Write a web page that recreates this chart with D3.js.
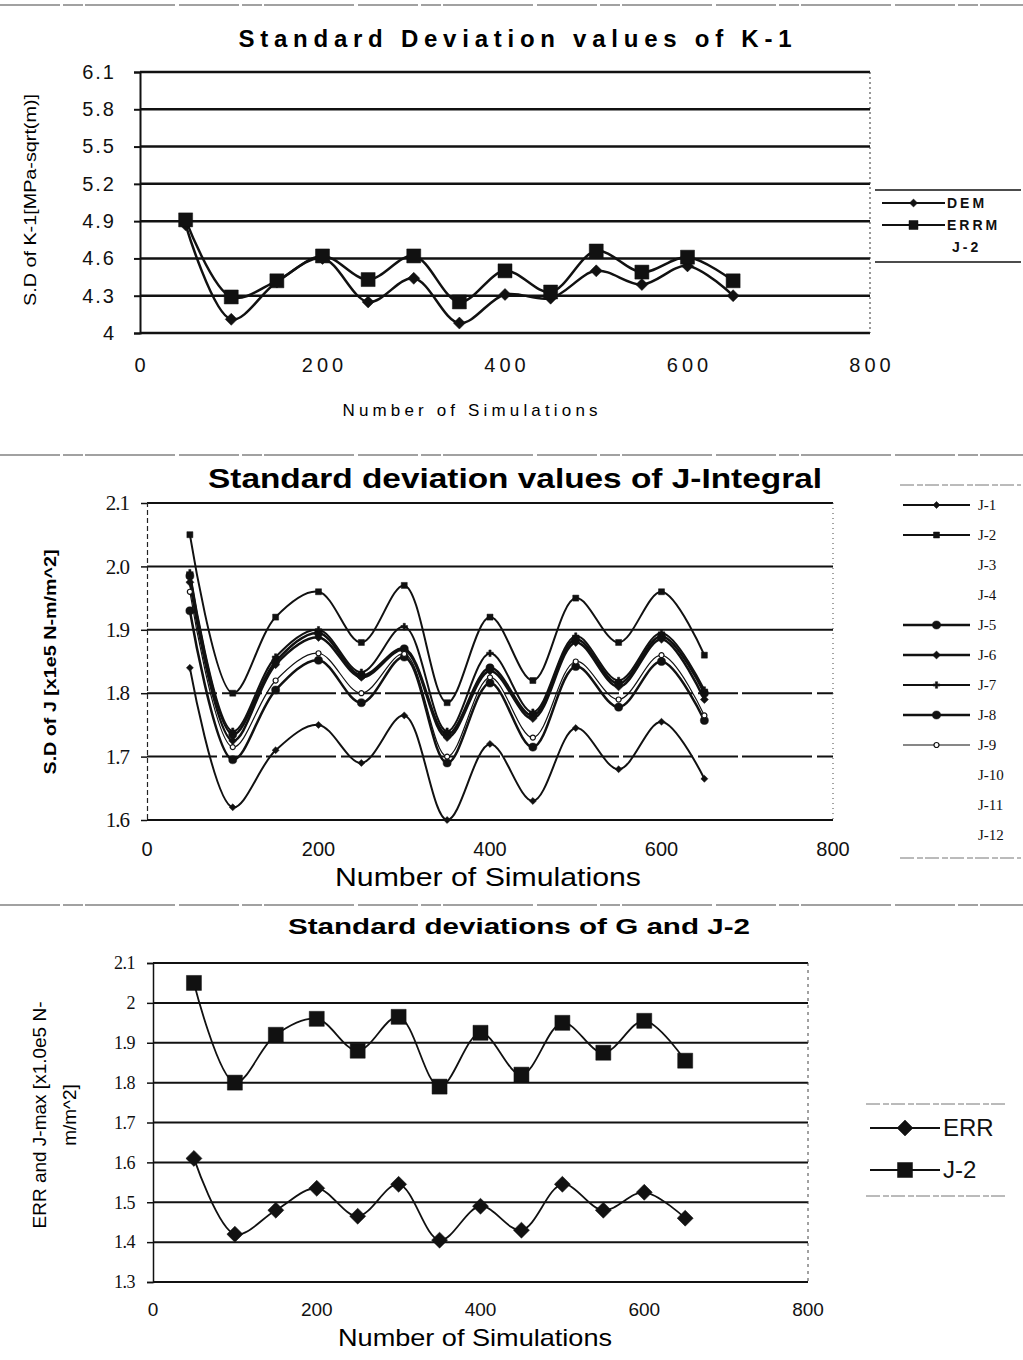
<!DOCTYPE html>
<html>
<head>
<meta charset="utf-8">
<script src="https://cdn.jsdelivr.net/npm/d3@7"></script>
<style>
  body { margin: 0; background: #fff; }
  svg { display: block; }
</style>
</head>
<body>
<script>
// number of simulations (x values of every series)
const simCounts = [50, 100, 150, 200, 250, 300, 350, 400, 450, 500, 550, 600, 650]
const xTicks = [0, 200, 400, 600, 800]

// chart 1 - K-1
const k1Ticks = [4, 4.3, 4.6, 4.9, 5.2, 5.5, 5.8, 6.1]
const k1Dem = [4.87, 4.11, 4.41, 4.60, 4.25, 4.44, 4.08, 4.31, 4.28, 4.50, 4.39, 4.54, 4.30]
const k1Errm = [4.91, 4.29, 4.42, 4.62, 4.43, 4.62, 4.25, 4.50, 4.33, 4.66, 4.49, 4.61, 4.42]
const k1Legend = ['DEM', 'ERRM', 'J-2']

// chart 2 - J-Integral
const jTicks = [1.6, 1.7, 1.8, 1.9, 2.0, 2.1]
const jNames = ['J-1', 'J-2', 'J-3', 'J-4', 'J-5', 'J-6', 'J-7', 'J-8', 'J-9', 'J-10', 'J-11', 'J-12']
const j1 = [1.84, 1.62, 1.71, 1.75, 1.69, 1.765, 1.60, 1.72, 1.63, 1.745, 1.68, 1.755, 1.665]
const j2 = [2.05, 1.80, 1.92, 1.96, 1.88, 1.97, 1.785, 1.92, 1.82, 1.95, 1.88, 1.96, 1.86]
const j5 = [1.985, 1.735, 1.85, 1.895, 1.828, 1.87, 1.735, 1.84, 1.765, 1.885, 1.815, 1.89, 1.80]
const j6 = [1.975, 1.725, 1.845, 1.888, 1.825, 1.868, 1.73, 1.835, 1.76, 1.88, 1.81, 1.885, 1.79]
const j7 = [1.99, 1.74, 1.857, 1.90, 1.833, 1.905, 1.74, 1.863, 1.77, 1.89, 1.82, 1.895, 1.805]
const j8 = [1.93, 1.695, 1.805, 1.852, 1.785, 1.857, 1.69, 1.816, 1.715, 1.842, 1.778, 1.85, 1.757]
const j9 = [1.96, 1.715, 1.82, 1.863, 1.80, 1.862, 1.70, 1.825, 1.73, 1.85, 1.79, 1.86, 1.765]

// chart 3 - G and J-2
const gTicks = [1.3, 1.4, 1.5, 1.6, 1.7, 1.8, 1.9, 2, 2.1]
const gErr = [1.61, 1.42, 1.48, 1.535, 1.465, 1.545, 1.405, 1.49, 1.43, 1.545, 1.48, 1.525, 1.46]
const gJ2 = [2.05, 1.80, 1.92, 1.96, 1.88, 1.965, 1.79, 1.925, 1.82, 1.95, 1.875, 1.955, 1.855]
const gLegend = ['ERR', 'J-2']

const sans = "'Liberation Sans', Arial, sans-serif"
const narrow = "'Liberation Sans Narrow', 'Liberation Sans', Arial, sans-serif"
const serif = "'Liberation Serif', 'DejaVu Serif', serif"

const svg = d3.select('body').append('svg')
  .attr('width', 1023)
  .attr('height', 1360)

const smooth = d3.curveCatmullRom.alpha(0.5)

// marker path, diamonds are rotated squares like excel's
function marker(type, size) {
  if (type === 'circle') return d3.symbol().type(d3.symbolCircle).size(size * size * 0.8)()
  if (type === 'cross') return d3.symbol().type(d3.symbolCross).size(size * size * 0.5)()
  let side = type === 'diamond' ? size / Math.SQRT2 : size
  return d3.symbol().type(d3.symbolSquare).size(side * side)()
}

function drawSeries(g, x, y, values, opts) {
  let pts = simCounts.map((s, i) => [x(s), y(values[i])])
  g.append('path')
    .attr('d', d3.line().curve(smooth)(pts))
    .attr('fill', 'none')
    .attr('stroke', '#111')
    .attr('stroke-width', opts.width)
  g.selectAll(null)
    .data(pts)
    .enter().append('path')
    .attr('d', marker(opts.marker, opts.size))
    .attr('transform', d => 'translate(' + d[0] + ',' + d[1] + ')' + (opts.marker === 'diamond' ? ' rotate(45)' : ''))
    .attr('fill', opts.open ? '#fff' : '#111')
    .attr('stroke', '#111')
    .attr('stroke-width', opts.open ? 1.2 : 0.5)
}

function separator(yPos) {
  svg.append('line')
    .attr('x1', 0).attr('x2', 1023)
    .attr('y1', yPos).attr('y2', yPos)
    .attr('stroke', '#444')
    .attr('stroke-width', 1.2)
    .attr('stroke-dasharray', '60,3,20,2,90,4')
}

function legendEntry(g, x0, x1, yPos, opts) {
  g.append('line')
    .attr('x1', x0).attr('x2', x1)
    .attr('y1', yPos).attr('y2', yPos)
    .attr('stroke', '#111')
    .attr('stroke-width', opts.width)
  g.append('path')
    .attr('d', marker(opts.marker, opts.size))
    .attr('transform', 'translate(' + ((x0 + x1) / 2) + ',' + yPos + ')' + (opts.marker === 'diamond' ? ' rotate(45)' : ''))
    .attr('fill', opts.open ? '#fff' : '#111')
    .attr('stroke', '#111')
    .attr('stroke-width', opts.open ? 1.2 : 0.5)
}

/* ---------- chart 1 : K-1 ---------- */
separator(5)
{
  let g = svg.append('g')
  let x = d3.scaleLinear().domain([0, 800]).range([140, 870])
  let y = d3.scaleLinear().domain([4, 6.1]).range([333, 72])

  g.selectAll(null).data(k1Ticks).enter().append('line')
    .attr('x1', 140).attr('x2', 870)
    .attr('y1', d => y(d)).attr('y2', d => y(d))
    .attr('stroke', '#111').attr('stroke-width', 2.5)

  g.append('line').attr('x1', 870).attr('x2', 870).attr('y1', 72).attr('y2', 333)
    .attr('stroke', '#333').attr('stroke-width', 1).attr('stroke-dasharray', '2,3')

  let yAxis = d3.axisLeft(y).tickValues(k1Ticks).tickSize(6).tickPadding(18)
    .tickFormat(d3.format('.1~f'))
  g.append('g').attr('transform', 'translate(140,0)').call(yAxis)
    .call(a => a.select('.domain').attr('stroke-width', 2).attr('stroke', '#111'))
    .call(a => a.selectAll('.tick line').attr('stroke-width', 2).attr('stroke', '#111'))
    .call(a => a.selectAll('text').attr('font-family', sans).attr('font-size', 20)
      .attr('letter-spacing', 2).attr('fill', '#111'))

  g.selectAll(null).data(xTicks).enter().append('text')
    .attr('x', d => x(d) + 2).attr('y', 372)
    .attr('text-anchor', 'middle')
    .attr('font-family', sans).attr('font-size', 20).attr('letter-spacing', 4)
    .attr('fill', '#111')
    .text(d => d)

  g.append('text').attr('x', 515).attr('y', 47)
    .attr('text-anchor', 'middle')
    .attr('font-family', sans).attr('font-size', 24).attr('font-weight', 'bold')
    .attr('textLength', 553).attr('lengthAdjust', 'spacing')
    .text('Standard Deviation values of K-1')

  g.append('text').attr('x', 470).attr('y', 416)
    .attr('text-anchor', 'middle')
    .attr('font-family', sans).attr('font-size', 17)
    .attr('textLength', 255).attr('lengthAdjust', 'spacing')
    .text('Number of Simulations')

  g.append('text')
    .attr('transform', 'translate(36,200) rotate(-90)')
    .attr('text-anchor', 'middle')
    .attr('font-family', sans).attr('font-size', 16)
    .attr('textLength', 212).attr('lengthAdjust', 'spacingAndGlyphs')
    .text('S.D of K-1[MPa-sqrt(m)]')

  drawSeries(g, x, y, k1Dem, {marker: 'diamond', size: 12, width: 2.5})
  drawSeries(g, x, y, k1Errm, {marker: 'square', size: 14, width: 2.5})

  // legend
  let lg = svg.append('g')
  ;[190, 262].forEach(yy => lg.append('line').attr('x1', 875).attr('x2', 1021)
    .attr('y1', yy).attr('y2', yy).attr('stroke', '#111').attr('stroke-width', 1.5))
  let k1Styles = [{marker: 'diamond', size: 8, width: 2}, {marker: 'square', size: 9, width: 2}, null]
  k1Legend.forEach((name, i) => {
    let yy = 203 + i * 22
    if (k1Styles[i]) legendEntry(lg, 882, 945, yy, k1Styles[i])
    lg.append('text').attr('x', i === 2 ? 952 : 947).attr('y', yy + 5)
      .attr('font-family', sans).attr('font-size', 14).attr('font-weight', 'bold')
      .attr('letter-spacing', 3).attr('fill', '#111')
      .text(name)
  })
}

/* ---------- chart 2 : J-Integral ---------- */
separator(455)
{
  let g = svg.append('g')
  let x = d3.scaleLinear().domain([0, 800]).range([147, 833])
  let y = d3.scaleLinear().domain([1.6, 2.1]).range([820, 503])

  g.selectAll(null).data(jTicks).enter().append('line')
    .attr('x1', 147).attr('x2', 833)
    .attr('y1', d => y(d)).attr('y2', d => y(d))
    .attr('stroke', '#111').attr('stroke-width', 2)
    .attr('stroke-dasharray', d => (d === 1.7 || d === 1.8) ? '70,5,40,4' : null)

  g.append('line').attr('x1', 833).attr('x2', 833).attr('y1', 503).attr('y2', 820)
    .attr('stroke', '#444').attr('stroke-width', 1).attr('stroke-dasharray', '1,4')

  let yAxis = d3.axisLeft(y).tickValues(jTicks).tickSize(6).tickPadding(12)
    .tickFormat(d3.format('.1f'))
  g.append('g').attr('transform', 'translate(147,0)').call(yAxis)
    .call(a => a.select('.domain').attr('stroke-width', 1.2).attr('stroke', '#222')
      .attr('stroke-dasharray', '5,3'))
    .call(a => a.selectAll('.tick line').attr('stroke-width', 1.5).attr('stroke', '#111'))
    .call(a => a.selectAll('text').attr('font-family', serif).attr('font-size', 21)
      .attr('letter-spacing', -1).attr('fill', '#111'))

  g.selectAll(null).data(xTicks).enter().append('text')
    .attr('x', d => x(d)).attr('y', 856)
    .attr('text-anchor', 'middle')
    .attr('font-family', narrow).attr('font-size', 20)
    .attr('fill', '#111')
    .text(d => d)

  g.append('text').attr('x', 488).attr('y', 886)
    .attr('text-anchor', 'middle')
    .attr('font-family', narrow).attr('font-size', 26)
    .attr('textLength', 306).attr('lengthAdjust', 'spacingAndGlyphs')
    .text('Number of Simulations')

  g.append('text').attr('x', 515).attr('y', 488)
    .attr('text-anchor', 'middle')
    .attr('font-family', narrow).attr('font-size', 27).attr('font-weight', 'bold')
    .attr('textLength', 614).attr('lengthAdjust', 'spacingAndGlyphs')
    .text('Standard deviation values of J-Integral')

  g.append('text')
    .attr('transform', 'translate(56,662) rotate(-90)')
    .attr('text-anchor', 'middle')
    .attr('font-family', sans).attr('font-size', 17).attr('font-weight', 'bold')
    .attr('textLength', 225).attr('lengthAdjust', 'spacingAndGlyphs')
    .text('S.D of J [x1e5 N-m/m^2]')

  // visible series; J-3, J-4, J-10, J-11, J-12 are blank in the original
  let jSeries = {
    'J-1': {values: j1, marker: 'diamond', size: 7, width: 2},
    'J-2': {values: j2, marker: 'square', size: 6, width: 2},
    'J-5': {values: j5, marker: 'circle', size: 8, width: 2.5},
    'J-6': {values: j6, marker: 'diamond', size: 8, width: 2.5},
    'J-7': {values: j7, marker: 'cross', size: 7, width: 2},
    'J-8': {values: j8, marker: 'circle', size: 8, width: 2.5},
    'J-9': {values: j9, marker: 'circle', size: 5, width: 1.2, open: true}
  }
  jNames.forEach(n => { if (jSeries[n]) drawSeries(g, x, y, jSeries[n].values, jSeries[n]) })

  let lg = svg.append('g')
  ;[485, 858].forEach(yy => lg.append('line').attr('x1', 900).attr('x2', 1021)
    .attr('y1', yy).attr('y2', yy).attr('stroke', '#777').attr('stroke-width', 1)
    .attr('stroke-dasharray', '14,3,6,2'))
  jNames.forEach((name, i) => {
    let yy = 505 + i * 30
    if (jSeries[name]) legendEntry(lg, 903, 970, yy, jSeries[name])
    lg.append('text').attr('x', 978).attr('y', yy + 5)
      .attr('font-family', serif).attr('font-size', 15)
      .attr('fill', '#111')
      .text(name)
  })
}

/* ---------- chart 3 : G and J-2 ---------- */
separator(905)
{
  let g = svg.append('g')
  let x = d3.scaleLinear().domain([0, 800]).range([153, 808])
  let y = d3.scaleLinear().domain([1.3, 2.1]).range([1282, 963])

  g.selectAll(null).data(gTicks).enter().append('line')
    .attr('x1', 153).attr('x2', 808)
    .attr('y1', d => y(d)).attr('y2', d => y(d))
    .attr('stroke', '#111').attr('stroke-width', 2)

  g.append('line').attr('x1', 808).attr('x2', 808).attr('y1', 963).attr('y2', 1282)
    .attr('stroke', '#444').attr('stroke-width', 1).attr('stroke-dasharray', '3,4')

  let yAxis = d3.axisLeft(y).tickValues(gTicks).tickSize(6).tickPadding(12)
    .tickFormat(d3.format('.1~f'))
  g.append('g').attr('transform', 'translate(153,0)').call(yAxis)
    .call(a => a.select('.domain').attr('stroke-width', 1.5).attr('stroke', '#111'))
    .call(a => a.selectAll('.tick line').attr('stroke-width', 1.5).attr('stroke', '#111'))
    .call(a => a.selectAll('text').attr('font-family', serif).attr('font-size', 18)
      .attr('letter-spacing', -0.5).attr('fill', '#111'))

  g.selectAll(null).data(xTicks).enter().append('text')
    .attr('x', d => x(d)).attr('y', 1316)
    .attr('text-anchor', 'middle')
    .attr('font-family', narrow).attr('font-size', 19)
    .attr('fill', '#111')
    .text(d => d)

  g.append('text').attr('x', 519).attr('y', 934)
    .attr('text-anchor', 'middle')
    .attr('font-family', narrow).attr('font-size', 22).attr('font-weight', 'bold')
    .attr('textLength', 462).attr('lengthAdjust', 'spacingAndGlyphs')
    .text('Standard deviations of G and J-2')

  g.append('text').attr('x', 475).attr('y', 1346)
    .attr('text-anchor', 'middle')
    .attr('font-family', narrow).attr('font-size', 24)
    .attr('textLength', 274).attr('lengthAdjust', 'spacingAndGlyphs')
    .text('Number of Simulations')

  let yt = g.append('text')
    .attr('transform', 'translate(0,1115) rotate(-90)')
    .attr('text-anchor', 'middle')
    .attr('font-family', sans).attr('font-size', 19)
  yt.append('tspan').attr('x', 0).attr('y', 46).text('ERR and J-max [x1.0e5 N-')
  yt.append('tspan').attr('x', 0).attr('y', 76).text('m/m^2]')

  let gStyles = [{marker: 'diamond', size: 16, width: 1.8}, {marker: 'square', size: 15, width: 1.8}]
  drawSeries(g, x, y, gErr, gStyles[0])
  drawSeries(g, x, y, gJ2, gStyles[1])

  let lg = svg.append('g')
  ;[1104, 1196].forEach(yy => lg.append('line').attr('x1', 866).attr('x2', 1005)
    .attr('y1', yy).attr('y2', yy).attr('stroke', '#777').attr('stroke-width', 1)
    .attr('stroke-dasharray', '14,3,6,2'))
  gLegend.forEach((name, i) => {
    let yy = 1128 + i * 42
    legendEntry(lg, 870, 940, yy, gStyles[i])
    lg.append('text').attr('x', 943).attr('y', yy + 8)
      .attr('font-family', narrow).attr('font-size', 24)
      .attr('fill', '#111')
      .text(name)
  })
}
</script>
</body>
</html>
